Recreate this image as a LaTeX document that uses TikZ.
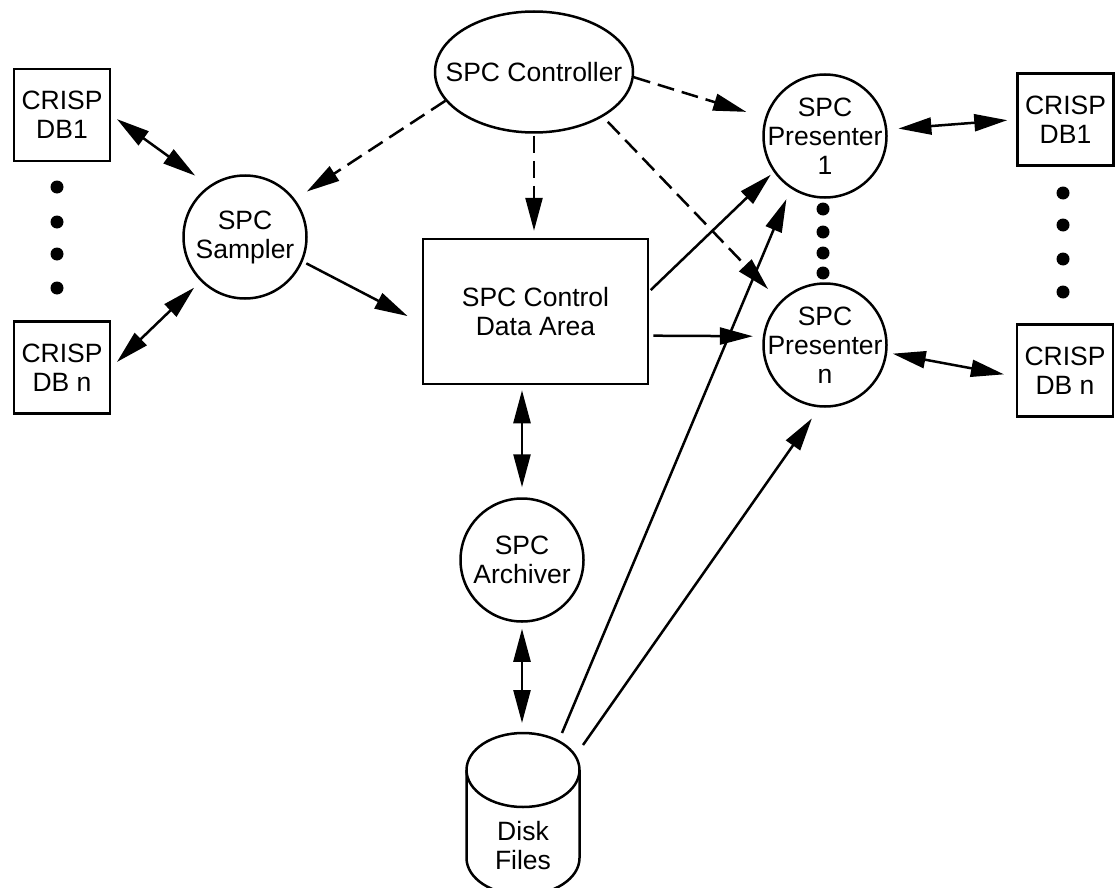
\documentclass[tikz,border=0pt]{standalone}
\usepackage{fontspec}
\setmainfont{Liberation Sans}
\usetikzlibrary{shapes.geometric, arrows.meta}
\begin{document}
\begin{tikzpicture}[x=1pt, y=-1pt,
  every node/.style={font=\fontsize{26.5}{29}\selectfont},
  lw/.style={line width=2.5pt},
  dbbox/.style={draw, lw, rectangle, minimum width=96pt, minimum height=92pt, align=center, inner sep=0pt},
  proc/.style={draw, lw, circle, minimum size=123pt, inner sep=0pt},
  txt/.style={align=center, inner sep=0pt},
  conn/.style={lw, -{Triangle[length=33pt,width=17pt]}},
  both/.style={lw, {Triangle[length=33pt,width=17pt]}-{Triangle[length=33pt,width=17pt]}},
  dashflow/.style={conn, dash pattern=on 17pt off 8pt}]
\useasboundingbox (0,0) rectangle (1116,888);

% nodes
\node[dbbox] (dbL1) at (62,115) {CRISP\\DB1};
\node[dbbox] (dbLn) at (62,367.5) {CRISP\\DB n};
\node[dbbox] (dbR1) at (1065.5,119.5) {CRISP\\DB1};
\node[dbbox] (dbRn) at (1065,370.5) {CRISP\\DB n};
\node[proc, label={[txt]center:SPC\\Sampler}] (sampler) at (245,237) {};
\node[draw, ellipse, lw, minimum width=198pt, minimum height=121pt, inner sep=0pt,
      label={[txt]center:SPC Controller}] (controller) at (534,72) {};
\node[draw, lw, minimum width=225pt, minimum height=145pt, align=center, inner sep=0pt] (data) at (535.5,311.5) {SPC Control\\Data Area};
\node[proc, label={[txt]center:SPC\\Archiver}] (archiver) at (522,560) {};
\node[proc, label={[txt]center:SPC\\Presenter\\1}] (pres1) at (825,136) {};
\node[proc, label={[txt]center:SPC\\Presenter\\n}] (presn) at (825,345) {};

% disk cylinder
\draw[lw] (523,770) ellipse [x radius=56.5pt, y radius=37pt];
\draw[lw] (466.5,770) -- (466.5,858) arc[start angle=180, end angle=360, x radius=56.5pt, y radius=37pt] -- (579.5,770);
\node[txt] (disk) at (523,846) {Disk\\Files};
\coordinate (disktop) at (523,733);
\coordinate (diskA) at (562,733);
\coordinate (diskB) at (583,745);

% dots
\foreach \yy in {187,222,254,288} \fill (57,\yy) circle[radius=6.5pt];
\foreach \yy in {209,232,253,273} \fill (823,\yy) circle[radius=6.5pt];
\foreach \yy in {193,225,259,292} \fill (1063,\yy) circle[radius=6.5pt];

% connectors
\draw[both, shorten <=7pt, shorten >=17pt] (dbL1.east) -- (sampler.125);
\draw[both, shorten <=8pt, shorten >=9pt] (dbLn.east) -- (sampler.225);
\draw[dashflow, shorten >=14pt] (controller.198) -- (sampler.37);
\draw[dashflow, shorten <=2pt, shorten >=7pt] (controller.south) -- (controller.south |- data.north);
\draw[dashflow, shorten >=19.6pt] (controller.357) -- (pres1.163);
\draw[dashflow, shorten <=7pt, shorten >=17pt] (controller.327) -- (presn.136);
\draw[conn, shorten <=4pt, shorten >=16pt] (sampler.337) -- (data.186);
\draw[conn, shorten <=2pt, shorten >=4pt] (data.10) -- (pres1.215);
\draw[conn, shorten <=4pt, shorten >=10pt] (data.348) -- (presn.172);
\draw[both, shorten <=11pt, shorten >=9pt] (pres1.6) -- (dbR1.west);
\draw[both, shorten <=5.5pt, shorten >=12pt] (presn.353) -- (dbRn.187);
\draw[both, shorten <=5pt, shorten >=10pt] (archiver.north |- data.south) -- (archiver.north);
\draw[both, shorten <=6pt, shorten >=10pt] (archiver.south) -- (archiver.south |- disktop);
\draw[conn, shorten >=11.4pt] (diskA) -- (pres1.237);
\draw[conn, shorten >=13.3pt] (diskB) -- (presn.265);
\end{tikzpicture}
\end{document}
